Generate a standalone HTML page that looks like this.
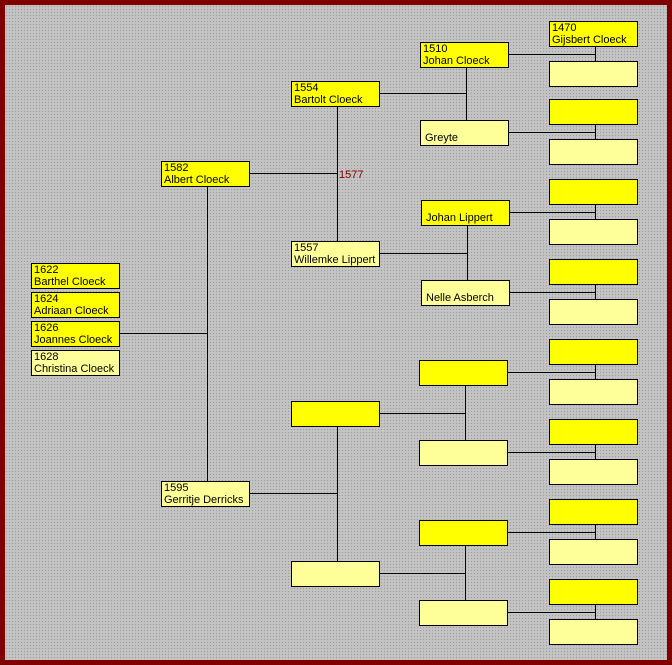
<!DOCTYPE html>
<html><head><meta charset="utf-8">
<style>
html,body{margin:0;padding:0;}
body{width:672px;height:665px;position:relative;overflow:hidden;background:#800000;font-family:"Liberation Sans",Arial,sans-serif;}
#bg{position:absolute;left:5px;top:5px;width:662px;height:655px;background-color:#c4c4c4;
background-image:radial-gradient(#9c9c9c 0.7px,transparent 0.8px);background-size:3px 3px;}
.b{position:absolute;box-sizing:border-box;height:26px;border:1px solid #000;font-size:11px;line-height:12px;padding:0 0 0 2px;color:#000;white-space:nowrap;overflow:hidden;}
.m{background:#ffff00;}
.f{background:#ffff99;}
.n{padding-top:11px;padding-left:4px;}
svg{position:absolute;left:0;top:0;}
</style></head><body>
<div id="bg"></div>
<svg width="672" height="665">
<g stroke="#000" stroke-width="1" fill="none" shape-rendering="crispEdges">
<!-- gen1 -->
<line x1="207.5" y1="186" x2="207.5" y2="481"/>
<line x1="120" y1="333.5" x2="207" y2="333.5"/>
<!-- gen2 -->
<line x1="337.5" y1="106" x2="337.5" y2="241"/>
<line x1="249" y1="173.5" x2="337" y2="173.5"/>
<line x1="337.5" y1="426" x2="337.5" y2="561"/>
<line x1="249" y1="493.5" x2="337" y2="493.5"/>
<!-- gen3 -->
<line x1="466.5" y1="67" x2="466.5" y2="120"/>
<line x1="380" y1="93.5" x2="466" y2="93.5"/>
<line x1="467.5" y1="225" x2="467.5" y2="280"/>
<line x1="380" y1="253.5" x2="467" y2="253.5"/>
<line x1="465.5" y1="385" x2="465.5" y2="440"/>
<line x1="380" y1="413.5" x2="465" y2="413.5"/>
<line x1="465.5" y1="545" x2="465.5" y2="600"/>
<line x1="380" y1="573.5" x2="465" y2="573.5"/>
<!-- gen4 -->
<line x1="595.5" y1="46" x2="595.5" y2="61"/><line x1="509" y1="54.5" x2="595" y2="54.5"/>
<line x1="595.5" y1="124" x2="595.5" y2="139"/><line x1="509" y1="132.5" x2="595" y2="132.5"/>
<line x1="595.5" y1="204" x2="595.5" y2="219"/><line x1="509" y1="212.5" x2="595" y2="212.5"/>
<line x1="595.5" y1="284" x2="595.5" y2="299"/><line x1="509" y1="292.5" x2="595" y2="292.5"/>
<line x1="595.5" y1="364" x2="595.5" y2="379"/><line x1="508" y1="372.5" x2="595" y2="372.5"/>
<line x1="595.5" y1="444" x2="595.5" y2="459"/><line x1="508" y1="452.5" x2="595" y2="452.5"/>
<line x1="595.5" y1="524" x2="595.5" y2="539"/><line x1="508" y1="532.5" x2="595" y2="532.5"/>
<line x1="595.5" y1="604" x2="595.5" y2="619"/><line x1="508" y1="612.5" x2="595" y2="612.5"/>
</g>
<text x="339" y="178" font-family="Liberation Sans, Arial, sans-serif" font-size="11" fill="#800000">1577</text>
</svg>

<!-- children -->
<div class="b m" style="left:31px;top:263px;width:89px;">1622<br>Barthel Cloeck</div>
<div class="b m" style="left:31px;top:292px;width:89px;">1624<br>Adriaan Cloeck</div>
<div class="b m" style="left:31px;top:321px;width:89px;">1626<br>Joannes Cloeck</div>
<div class="b f" style="left:31px;top:350px;width:89px;">1628<br>Christina Cloeck</div>

<!-- gen1 -->
<div class="b m" style="left:161px;top:161px;width:89px;">1582<br>Albert Cloeck</div>
<div class="b f" style="left:161px;top:481px;width:89px;">1595<br>Gerritje Derricks</div>

<!-- gen2 -->
<div class="b m" style="left:291px;top:81px;width:89px;">1554<br>Bartolt Cloeck</div>
<div class="b f" style="left:291px;top:241px;width:89px;">1557<br>Willemke Lippert</div>
<div class="b m" style="left:291px;top:401px;width:89px;"></div>
<div class="b f" style="left:291px;top:561px;width:89px;"></div>

<!-- gen3 -->
<div class="b m" style="left:420px;top:42px;width:89px;">1510<br>Johan Cloeck</div>
<div class="b f n" style="left:420px;top:120px;width:89px;">Greyte</div>
<div class="b m n" style="left:421px;top:200px;width:89px;">Johan Lippert</div>
<div class="b f n" style="left:421px;top:280px;width:89px;">Nelle Asberch</div>
<div class="b m" style="left:419px;top:360px;width:89px;"></div>
<div class="b f" style="left:419px;top:440px;width:89px;"></div>
<div class="b m" style="left:419px;top:520px;width:89px;"></div>
<div class="b f" style="left:419px;top:600px;width:89px;"></div>

<!-- gen4 -->
<div class="b m" style="left:549px;top:21px;width:89px;">1470<br>Gijsbert Cloeck</div>
<div class="b f" style="left:549px;top:61px;width:89px;"></div>
<div class="b m" style="left:549px;top:99px;width:89px;"></div>
<div class="b f" style="left:549px;top:139px;width:89px;"></div>
<div class="b m" style="left:549px;top:179px;width:89px;"></div>
<div class="b f" style="left:549px;top:219px;width:89px;"></div>
<div class="b m" style="left:549px;top:259px;width:89px;"></div>
<div class="b f" style="left:549px;top:299px;width:89px;"></div>
<div class="b m" style="left:549px;top:339px;width:89px;"></div>
<div class="b f" style="left:549px;top:379px;width:89px;"></div>
<div class="b m" style="left:549px;top:419px;width:89px;"></div>
<div class="b f" style="left:549px;top:459px;width:89px;"></div>
<div class="b m" style="left:549px;top:499px;width:89px;"></div>
<div class="b f" style="left:549px;top:539px;width:89px;"></div>
<div class="b m" style="left:549px;top:579px;width:89px;"></div>
<div class="b f" style="left:549px;top:619px;width:89px;"></div>
</body></html>
